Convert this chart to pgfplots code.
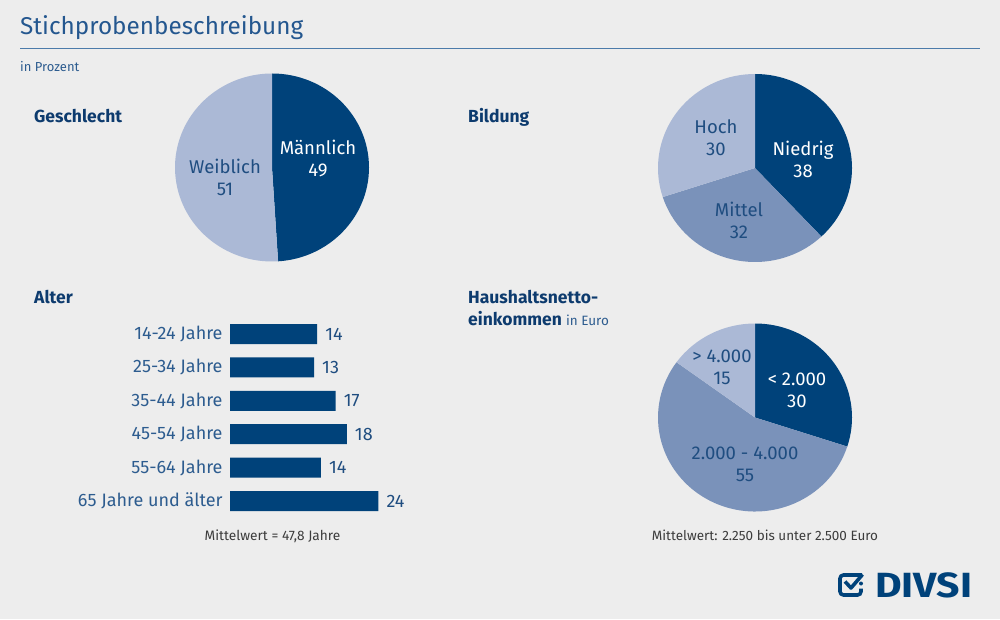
\documentclass[border=0pt]{standalone}
\usepackage{pgfplots}
\pgfplotsset{compat=1.18}
\usepackage{pgfplotstable}
\usepackage{fontspec}
\setmainfont{Fira Sans}
\definecolor{bg}{RGB}{237,237,237}
\definecolor{dark}{RGB}{0,66,122}
\definecolor{medium}{RGB}{122,146,186}
\definecolor{light}{RGB}{171,185,214}
\definecolor{titleblue}{RGB}{36,87,143}
\definecolor{rule}{RGB}{76,123,170}
\definecolor{headnavy}{RGB}{13,59,110}
\definecolor{labelblue}{RGB}{45,92,143}
\definecolor{slicetext}{RGB}{31,77,128}
\definecolor{gtext}{RGB}{60,60,60}

% bar lengths as drawn in the reference, labels as printed
\pgfplotstableread{
idx value label
0 14.1 14
1 13.6 13
2 17.1 17
3 18.9 18
4 14.7 14
5 24.0 24
}\altertable

% slice: start percent, end percent, colour
\newcommand\slice[3]{%
  \fill[#3] (axis cs:0,0) -- (axis cs:{cos(90-3.6*#1)},{sin(90-3.6*#1)})
    arc[start angle={90-3.6*#1}, end angle={90-3.6*#2}, x radius=97pt, y radius=94pt] -- cycle;}

\pgfplotsset{pieaxis/.style={width=194pt, height=188pt, scale only axis,
  xmin=-1, xmax=1, ymin=-1, ymax=1, hide axis, clip=false, anchor=center}}

\begin{document}
\begin{tikzpicture}
\fill[bg] (0pt,0pt) rectangle (1000pt,619pt);
\useasboundingbox (0pt,0pt) rectangle (1000pt,619pt);

% title
\node[anchor=base west, inner sep=0pt, text=titleblue, font=\fontsize{24.3}{30}\selectfont] at (20pt,584pt) {Stichprobenbeschreibung};
\draw[rule, line width=1.2pt] (20pt,570.5pt) -- (980pt,570.5pt);
\node[anchor=base west, inner sep=0pt, text=labelblue, font=\fontsize{13}{15}\selectfont] at (20pt,547.5pt) {in Prozent};

% headings
\begin{scope}[every node/.style={anchor=base west, inner sep=0pt, text=headnavy, font=\fontsize{17.5}{21}\selectfont\bfseries}]
\node at (34pt,496.5pt) {Geschlecht};
\node at (468pt,496.5pt) {Bildung};
\node at (34pt,315pt) {Alter};
\node at (468pt,315pt) {Haushaltsnetto-};
\node at (468pt,294pt) {einkommen {\mdseries\fontsize{13.5}{15}\selectfont\color{labelblue} in Euro}};
\end{scope}

% pie Geschlecht
\begin{axis}[pieaxis, at={(272pt,451.5pt)}]
\slice{0}{49}{dark}
\slice{49}{100}{light}
\end{axis}
% pie Bildung
\begin{axis}[pieaxis, at={(755pt,451pt)}]
\slice{0}{38}{dark}
\slice{38}{70}{medium}
\slice{70}{100}{light}
\end{axis}
% pie Einkommen
\begin{axis}[pieaxis, at={(755pt,201.5pt)}]
\slice{0}{30}{dark}
\slice{30}{85}{medium}
\slice{85}{100}{light}
\end{axis}

% pie labels
\begin{scope}[every node/.style={align=center, inner sep=0pt, font=\fontsize{18.5}{22}\selectfont}]
\node[text=white] at (318pt,460.5pt) {Männlich\\49};
\node[text=slicetext] at (225pt,441.5pt) {Weiblich\\51};
\node[text=slicetext] at (716pt,481.5pt) {Hoch\\30};
\node[text=white] at (803pt,460pt) {Niedrig\\38};
\node[text=slicetext] at (739pt,399pt) {Mittel\\32};
\node[text=slicetext] at (722pt,252pt) {> 4.000\\15};
\node[text=white] at (797pt,228.5pt) {< 2.000\\30};
\node[text=slicetext] at (745pt,154.5pt) {2.000 - 4.000\\55};
\end{scope}

% bar chart Alter
\begin{axis}[
  at={(230pt,201.5pt)}, anchor=west,
  xbar, bar width=20pt,
  width=148.3pt, height=200.4pt, scale only axis,
  xmin=0, xmax=24, ymin=-0.5, ymax=5.5, y dir=reverse,
  ytick={0,...,5},
  yticklabels={14-24 Jahre,25-34 Jahre,35-44 Jahre,45-54 Jahre,55-64 Jahre,65 Jahre und älter},
  yticklabel style={font=\fontsize{18}{20}\selectfont, text=labelblue, inner sep=0pt, xshift=-3pt},
  xtick=\empty,
  axis line style={draw=none}, tick style={draw=none},
  clip=false,
  nodes near coords,
  nodes near coords style={anchor=west, inner sep=0pt, xshift=8pt, font=\fontsize{18}{20}\selectfont, text=slicetext},
  point meta=explicit symbolic,
]
\addplot[fill=dark, draw=none] table[x=value, y=idx, meta=label] {\altertable};
\end{axis}

% footnotes
\node[anchor=base, inner sep=0pt, text=gtext, font=\fontsize{13.7}{15}\selectfont] at (272.5pt,79pt) {Mittelwert = 47,8 Jahre};
\node[anchor=base, inner sep=0pt, text=gtext, font=\fontsize{13.5}{15}\selectfont] at (765pt,79pt) {Mittelwert: 2.250 bis unter 2.500 Euro};

% logo
\draw[dark, line width=3.6pt, rounded corners=3.5pt] (862pt,44pt) -- (840pt,44pt) -- (840pt,24pt) -- (861pt,24pt) -- (861pt,30.5pt);
\draw[dark, line width=3.6pt, line join=round] (845pt,37.5pt) -- (851pt,31pt) -- (862.5pt,44.5pt);
\fill[dark] (861pt,35.5pt) circle (2pt);
\node[anchor=base west, inner sep=0pt, text=dark, font=\fontsize{35}{40}\selectfont\bfseries] at (875pt,22pt) {\scalebox{1.17}[1]{DIVSI}};
\end{tikzpicture}
\end{document}
